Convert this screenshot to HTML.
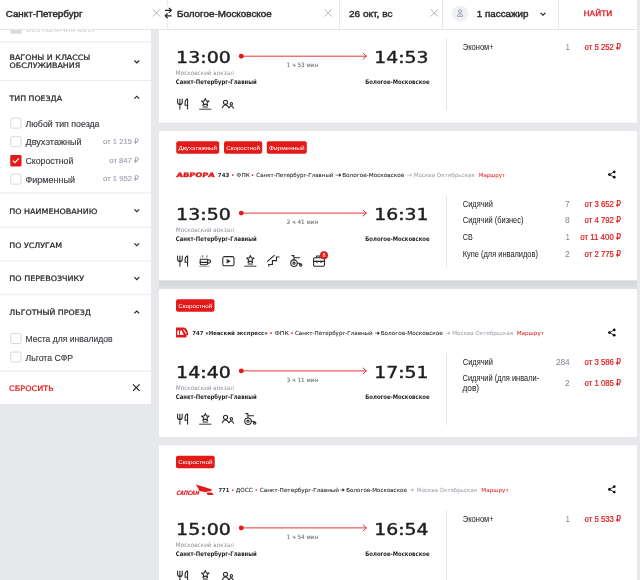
<!DOCTYPE html>
<html lang="ru"><head><meta charset="utf-8"><title>РЖД — выбор поезда</title>
<style>
html,body{margin:0;padding:0;width:640px;height:580px;overflow:hidden;background:#e7e8ec}
svg{display:block}
text{white-space:pre}
</style></head><body>
<svg width="640" height="580" viewBox="0 0 640 580" font-family='"Liberation Sans", "DejaVu Sans", sans-serif'>
<rect x="0" y="0" width="640" height="580" fill="#e7e8ec" />
<rect x="0" y="0" width="151" height="404" fill="#fff" />
<rect x="10.3" y="22.7" width="11.5" height="11" fill="#d9dadf" rx="1.5" />
<text x="26.10" y="32.30" font-size="8" fill="#cbcdd2" textLength="69.80" lengthAdjust="spacingAndGlyphs">Без наличия мест</text>
<rect x="0" y="41.5" width="151" height="1" fill="#e9eaee" />
<rect x="0" y="80" width="151" height="1" fill="#e9eaee" />
<rect x="0" y="192.5" width="151" height="1" fill="#e9eaee" />
<rect x="0" y="226.8" width="151" height="1" fill="#e9eaee" />
<rect x="0" y="260.6" width="151" height="1" fill="#e9eaee" />
<rect x="0" y="294.2" width="151" height="1" fill="#e9eaee" />
<rect x="0" y="370.5" width="151" height="1" fill="#e9eaee" />
<text x="9.50" y="60.40" font-size="7.4" fill="#2a2a2e" font-family='"DejaVu Sans", "Liberation Sans", sans-serif' textLength="80.80" lengthAdjust="spacingAndGlyphs" stroke="#2a2a2e" stroke-width="0.24">ВАГОНЫ И КЛАССЫ</text>
<text x="9.50" y="68.10" font-size="7.4" fill="#2a2a2e" font-family='"DejaVu Sans", "Liberation Sans", sans-serif' textLength="70.70" lengthAdjust="spacingAndGlyphs" stroke="#2a2a2e" stroke-width="0.24">ОБСЛУЖИВАНИЯ</text>
<path d="M134.4 60.5L136.8 62.900000000000006L139.20000000000002 60.5" fill="none" stroke="#222226" stroke-width="1.15" />
<text x="9.50" y="100.80" font-size="7.4" fill="#2a2a2e" font-family='"DejaVu Sans", "Liberation Sans", sans-serif' textLength="52.60" lengthAdjust="spacingAndGlyphs" stroke="#2a2a2e" stroke-width="0.24">ТИП ПОЕЗДА</text>
<path d="M134.4 98.60000000000001L136.8 96.2L139.20000000000002 98.60000000000001" fill="none" stroke="#222226" stroke-width="1.15" />
<rect x="10.75" y="118.1" width="10.3" height="10" fill="#fff" rx="1.4" stroke="#d7d8dd" stroke-width="1"/>
<text x="25.50" y="126.90" font-size="8.2" fill="#3a3a41" textLength="74.00" lengthAdjust="spacingAndGlyphs" stroke="#3a3a41" stroke-width="0.14">Любой тип поезда</text>
<rect x="10.75" y="136.7" width="10.3" height="10" fill="#fff" rx="1.4" stroke="#d7d8dd" stroke-width="1"/>
<text x="25.50" y="145.30" font-size="8.2" fill="#3a3a41" textLength="56.20" lengthAdjust="spacingAndGlyphs" stroke="#3a3a41" stroke-width="0.14">Двухэтажный</text>
<text x="103.10" y="144.10" font-size="7.7" fill="#9a9eab" textLength="35.80" lengthAdjust="spacingAndGlyphs" stroke="#9a9eab" stroke-width="0.12">от 1 215 ₽</text>
<rect x="10.25" y="155.0" width="11.3" height="11.4" fill="#e21a1a" rx="1.1" />
<path d="M12.9 160.6L14.9 162.6L18.9 158.4" fill="none" stroke="#fff" stroke-width="1.2" />
<text x="25.50" y="164.10" font-size="8.2" fill="#3a3a41" textLength="47.80" lengthAdjust="spacingAndGlyphs" stroke="#3a3a41" stroke-width="0.14">Скоростной</text>
<text x="109.30" y="162.80" font-size="7.7" fill="#9a9eab" textLength="29.60" lengthAdjust="spacingAndGlyphs" stroke="#9a9eab" stroke-width="0.12">от 847 ₽</text>
<rect x="10.75" y="174.1" width="10.3" height="10" fill="#fff" rx="1.4" stroke="#d7d8dd" stroke-width="1"/>
<text x="25.50" y="182.70" font-size="8.2" fill="#3a3a41" textLength="49.50" lengthAdjust="spacingAndGlyphs" stroke="#3a3a41" stroke-width="0.14">Фирменный</text>
<text x="103.10" y="181.40" font-size="7.7" fill="#9a9eab" textLength="35.80" lengthAdjust="spacingAndGlyphs" stroke="#9a9eab" stroke-width="0.12">от 1 952 ₽</text>
<text x="9.30" y="213.60" font-size="7.4" fill="#2a2a2e" font-family='"DejaVu Sans", "Liberation Sans", sans-serif' textLength="88.00" lengthAdjust="spacingAndGlyphs" stroke="#2a2a2e" stroke-width="0.24">ПО НАИМЕНОВАНИЮ</text>
<path d="M134.4 209.4L136.8 211.79999999999998L139.20000000000002 209.4" fill="none" stroke="#222226" stroke-width="1.15" />
<text x="9.30" y="247.60" font-size="7.4" fill="#2a2a2e" font-family='"DejaVu Sans", "Liberation Sans", sans-serif' textLength="52.80" lengthAdjust="spacingAndGlyphs" stroke="#2a2a2e" stroke-width="0.24">ПО УСЛУГАМ</text>
<path d="M134.4 243.4L136.8 245.79999999999998L139.20000000000002 243.4" fill="none" stroke="#222226" stroke-width="1.15" />
<text x="9.30" y="281.20" font-size="7.4" fill="#2a2a2e" font-family='"DejaVu Sans", "Liberation Sans", sans-serif' textLength="74.90" lengthAdjust="spacingAndGlyphs" stroke="#2a2a2e" stroke-width="0.24">ПО ПЕРЕВОЗЧИКУ</text>
<path d="M134.4 277.2L136.8 279.59999999999997L139.20000000000002 277.2" fill="none" stroke="#222226" stroke-width="1.15" />
<text x="9.30" y="315.40" font-size="7.4" fill="#2a2a2e" font-family='"DejaVu Sans", "Liberation Sans", sans-serif' textLength="81.70" lengthAdjust="spacingAndGlyphs" stroke="#2a2a2e" stroke-width="0.24">ЛЬГОТНЫЙ ПРОЕЗД</text>
<path d="M134.4 313.4L136.8 311.0L139.20000000000002 313.4" fill="none" stroke="#222226" stroke-width="1.15" />
<rect x="10.75" y="333.5" width="10.3" height="10" fill="#fff" rx="1.4" stroke="#d7d8dd" stroke-width="1"/>
<text x="25.50" y="342.20" font-size="8.2" fill="#3a3a41" textLength="87.00" lengthAdjust="spacingAndGlyphs" stroke="#3a3a41" stroke-width="0.14">Места для инвалидов</text>
<rect x="10.75" y="352.1" width="10.3" height="10" fill="#fff" rx="1.4" stroke="#d7d8dd" stroke-width="1"/>
<text x="25.50" y="360.80" font-size="8.2" fill="#3a3a41" textLength="47.50" lengthAdjust="spacingAndGlyphs" stroke="#3a3a41" stroke-width="0.14">Льгота СФР</text>
<text x="9.10" y="391.20" font-size="7.4" fill="#e21a1a" font-family='"DejaVu Sans", "Liberation Sans", sans-serif' textLength="44.60" lengthAdjust="spacingAndGlyphs" stroke="#e21a1a" stroke-width="0.22">СБРОСИТЬ</text>
<path d="M133 384.3L139.6 390.9M139.6 384.3L133 390.9" fill="none" stroke="#222226" stroke-width="1.15" />
<rect x="159" y="-26" width="478" height="148.5" fill="#fff" />
<text x="176.10" y="63.30" font-size="16.4" fill="#1e1e22" font-family='"DejaVu Sans", "Liberation Sans", sans-serif' textLength="54.70" lengthAdjust="spacingAndGlyphs" stroke="#1e1e22" stroke-width="0.42">13:00</text>
<text x="374.30" y="63.30" font-size="16.4" fill="#1e1e22" font-family='"DejaVu Sans", "Liberation Sans", sans-serif' textLength="54.20" lengthAdjust="spacingAndGlyphs" stroke="#1e1e22" stroke-width="0.42">14:53</text>
<line x1="241.3" y1="56.199999999999996" x2="366.4" y2="56.199999999999996" stroke="#e4383c" stroke-width="1"/>
<circle cx="241.3" cy="56.199999999999996" r="2.45" fill="#e21a1a"/>
<path d="M362.8 53.0L366.4 56.199999999999996L362.8 59.4" fill="none" stroke="#e4383c" stroke-width="1" />
<text x="286.80" y="66.80" font-size="5.9" fill="#6f727c" font-family='"DejaVu Sans", "Liberation Sans", sans-serif' textLength="31.30" lengthAdjust="spacingAndGlyphs" stroke="#6f727c" stroke-width="0.1">1 ч 53 мин</text>
<text x="175.80" y="75.30" font-size="6.1" fill="#8d909a" font-family='"DejaVu Sans", "Liberation Sans", sans-serif' textLength="58.00" lengthAdjust="spacingAndGlyphs">Московский вокзал</text>
<text x="175.80" y="83.90" font-size="6.3" fill="#1e1e22" font-family='"DejaVu Sans", "Liberation Sans", sans-serif' font-weight="700" textLength="80.90" lengthAdjust="spacingAndGlyphs">Санкт-Петербург-Главный</text>
<text x="365.30" y="83.90" font-size="6.3" fill="#1e1e22" font-family='"DejaVu Sans", "Liberation Sans", sans-serif' font-weight="700" textLength="64.20" lengthAdjust="spacingAndGlyphs">Бологое-Московское</text>
<rect x="446" y="38.3" width="1" height="72" fill="#e4e5e9" />
<rect x="159" y="131" width="478" height="149.5" fill="#fff" />
<rect x="176.25" y="141.25" width="42.94999999999999" height="12.5" fill="#e21a1a" rx="2" />
<text x="197.72" y="149.85" font-size="6.1" fill="#fff" text-anchor="middle" textLength="38.45" lengthAdjust="spacingAndGlyphs">Двухэтажный</text>
<rect x="224.0" y="141.25" width="38.19999999999999" height="12.5" fill="#e21a1a" rx="2" />
<text x="243.10" y="149.85" font-size="6.1" fill="#fff" text-anchor="middle" textLength="33.70" lengthAdjust="spacingAndGlyphs">Скоростной</text>
<rect x="266.8" y="141.25" width="40.0" height="12.5" fill="#e21a1a" rx="2" />
<text x="286.80" y="149.85" font-size="6.1" fill="#fff" text-anchor="middle" textLength="35.50" lengthAdjust="spacingAndGlyphs">Фирменный</text>
<text x="176.10" y="220.20" font-size="16.4" fill="#1e1e22" font-family='"DejaVu Sans", "Liberation Sans", sans-serif' textLength="54.70" lengthAdjust="spacingAndGlyphs" stroke="#1e1e22" stroke-width="0.42">13:50</text>
<text x="374.30" y="220.20" font-size="16.4" fill="#1e1e22" font-family='"DejaVu Sans", "Liberation Sans", sans-serif' textLength="54.20" lengthAdjust="spacingAndGlyphs" stroke="#1e1e22" stroke-width="0.42">16:31</text>
<line x1="241.3" y1="213.1" x2="366.4" y2="213.1" stroke="#e4383c" stroke-width="1"/>
<circle cx="241.3" cy="213.1" r="2.45" fill="#e21a1a"/>
<path d="M362.8 209.89999999999998L366.4 213.1L362.8 216.29999999999998" fill="none" stroke="#e4383c" stroke-width="1" />
<text x="286.80" y="223.70" font-size="5.9" fill="#6f727c" font-family='"DejaVu Sans", "Liberation Sans", sans-serif' textLength="31.30" lengthAdjust="spacingAndGlyphs" stroke="#6f727c" stroke-width="0.1">2 ч 41 мин</text>
<text x="175.80" y="232.20" font-size="6.1" fill="#8d909a" font-family='"DejaVu Sans", "Liberation Sans", sans-serif' textLength="58.00" lengthAdjust="spacingAndGlyphs">Московский вокзал</text>
<text x="175.80" y="240.80" font-size="6.3" fill="#1e1e22" font-family='"DejaVu Sans", "Liberation Sans", sans-serif' font-weight="700" textLength="80.90" lengthAdjust="spacingAndGlyphs">Санкт-Петербург-Главный</text>
<text x="365.30" y="240.80" font-size="6.3" fill="#1e1e22" font-family='"DejaVu Sans", "Liberation Sans", sans-serif' font-weight="700" textLength="64.20" lengthAdjust="spacingAndGlyphs">Бологое-Московское</text>
<rect x="446" y="195.2" width="1" height="72" fill="#e4e5e9" />
<defs><linearGradient id="sh2" x1="0" y1="0" x2="0" y2="1"><stop offset="0" stop-color="#d3d4d8"/><stop offset="1" stop-color="#dfe0e4"/></linearGradient></defs>
<rect x="159" y="280.5" width="478" height="8.5" fill="url(#sh2)" />
<rect x="159" y="289" width="478" height="148" fill="#fff" />
<rect x="176.0" y="299.3" width="38.5" height="12.5" fill="#e21a1a" rx="2" />
<text x="195.25" y="307.90" font-size="6.1" fill="#fff" text-anchor="middle" textLength="34.00" lengthAdjust="spacingAndGlyphs">Скоростной</text>
<text x="176.10" y="378.00" font-size="16.4" fill="#1e1e22" font-family='"DejaVu Sans", "Liberation Sans", sans-serif' textLength="54.70" lengthAdjust="spacingAndGlyphs" stroke="#1e1e22" stroke-width="0.42">14:40</text>
<text x="374.30" y="378.00" font-size="16.4" fill="#1e1e22" font-family='"DejaVu Sans", "Liberation Sans", sans-serif' textLength="54.20" lengthAdjust="spacingAndGlyphs" stroke="#1e1e22" stroke-width="0.42">17:51</text>
<line x1="241.3" y1="370.9" x2="366.4" y2="370.9" stroke="#e4383c" stroke-width="1"/>
<circle cx="241.3" cy="370.9" r="2.45" fill="#e21a1a"/>
<path d="M362.8 367.7L366.4 370.9L362.8 374.1" fill="none" stroke="#e4383c" stroke-width="1" />
<text x="286.80" y="381.50" font-size="5.9" fill="#6f727c" font-family='"DejaVu Sans", "Liberation Sans", sans-serif' textLength="31.30" lengthAdjust="spacingAndGlyphs" stroke="#6f727c" stroke-width="0.1">3 ч 11 мин</text>
<text x="175.80" y="390.00" font-size="6.1" fill="#8d909a" font-family='"DejaVu Sans", "Liberation Sans", sans-serif' textLength="58.00" lengthAdjust="spacingAndGlyphs">Московский вокзал</text>
<text x="175.80" y="398.60" font-size="6.3" fill="#1e1e22" font-family='"DejaVu Sans", "Liberation Sans", sans-serif' font-weight="700" textLength="80.90" lengthAdjust="spacingAndGlyphs">Санкт-Петербург-Главный</text>
<text x="365.30" y="398.60" font-size="6.3" fill="#1e1e22" font-family='"DejaVu Sans", "Liberation Sans", sans-serif' font-weight="700" textLength="64.20" lengthAdjust="spacingAndGlyphs">Бологое-Московское</text>
<rect x="446" y="353" width="1" height="72" fill="#e4e5e9" />
<rect x="159" y="445.4" width="478" height="154.60000000000002" fill="#fff" />
<rect x="176.0" y="455.8" width="38.69999999999999" height="12.5" fill="#e21a1a" rx="2" />
<text x="195.35" y="464.40" font-size="6.1" fill="#fff" text-anchor="middle" textLength="34.20" lengthAdjust="spacingAndGlyphs">Скоростной</text>
<text x="176.10" y="535.00" font-size="16.4" fill="#1e1e22" font-family='"DejaVu Sans", "Liberation Sans", sans-serif' textLength="54.70" lengthAdjust="spacingAndGlyphs" stroke="#1e1e22" stroke-width="0.42">15:00</text>
<text x="374.30" y="535.00" font-size="16.4" fill="#1e1e22" font-family='"DejaVu Sans", "Liberation Sans", sans-serif' textLength="54.20" lengthAdjust="spacingAndGlyphs" stroke="#1e1e22" stroke-width="0.42">16:54</text>
<line x1="241.3" y1="527.9" x2="366.4" y2="527.9" stroke="#e4383c" stroke-width="1"/>
<circle cx="241.3" cy="527.9" r="2.45" fill="#e21a1a"/>
<path d="M362.8 524.7L366.4 527.9L362.8 531.1" fill="none" stroke="#e4383c" stroke-width="1" />
<text x="286.80" y="538.50" font-size="5.9" fill="#6f727c" font-family='"DejaVu Sans", "Liberation Sans", sans-serif' textLength="31.30" lengthAdjust="spacingAndGlyphs" stroke="#6f727c" stroke-width="0.1">1 ч 54 мин</text>
<text x="175.80" y="547.00" font-size="6.1" fill="#8d909a" font-family='"DejaVu Sans", "Liberation Sans", sans-serif' textLength="58.00" lengthAdjust="spacingAndGlyphs">Московский вокзал</text>
<text x="175.80" y="555.60" font-size="6.3" fill="#1e1e22" font-family='"DejaVu Sans", "Liberation Sans", sans-serif' font-weight="700" textLength="80.90" lengthAdjust="spacingAndGlyphs">Санкт-Петербург-Главный</text>
<text x="365.30" y="555.60" font-size="6.3" fill="#1e1e22" font-family='"DejaVu Sans", "Liberation Sans", sans-serif' font-weight="700" textLength="64.20" lengthAdjust="spacingAndGlyphs">Бологое-Московское</text>
<rect x="446" y="510" width="1" height="72" fill="#e4e5e9" />
<text x="462.80" y="49.90" font-size="8.3" fill="#2a2a2e" textLength="30.80" lengthAdjust="spacingAndGlyphs" stroke="#2a2a2e" stroke-width="0.05">Эконом+</text>
<text x="565.70" y="49.90" font-size="8.7" fill="#7f8390" textLength="4.00" lengthAdjust="spacingAndGlyphs">1</text>
<text x="584.60" y="49.90" font-size="8.3" fill="#e21a1a" textLength="36.40" lengthAdjust="spacingAndGlyphs" stroke="#e21a1a" stroke-width="0.22">от 5 252 ₽</text>
<g transform="translate(177.00 98.00)" fill="none" stroke="#26262b" stroke-width="1.05" stroke-linecap="round" stroke-linejoin="round"><path d="M0.6 0.9V4.6Q0.6 6.6 2.9 6.6Q5.2 6.6 5.2 4.6V0.9M2.9 0.9V11.1"/><path d="M10.6 0.9V11.1M10.6 0.9Q8.1 1.6 8.1 4.4V7.3H10.6"/></g>
<g transform="translate(199.00 98.00)" fill="none" stroke="#26262b" stroke-width="1.05" stroke-linecap="round" stroke-linejoin="round"><polygon points="6.30,0.40 7.33,2.88 10.01,3.09 7.96,4.84 8.59,7.46 6.30,6.05 4.01,7.46 4.64,4.84 2.59,3.09 5.27,2.88"/><path d="M4.2 9H8.4" stroke-width="1.2"/><path d="M0.6 11.2H12" stroke-width="0.9"/></g>
<g transform="translate(222.00 98.00)" fill="none" stroke="#26262b" stroke-width="1.05" stroke-linecap="round" stroke-linejoin="round"><circle cx="3.5" cy="4.3" r="2.05"/><path d="M0.3 9.6L2.1 7.3Q3.5 6.5 4.9 7.3L7 9.6"/><ellipse cx="9.3" cy="5.8" rx="1.2" ry="1.35"/><path d="M7 9.6L8.5 8.2Q9.3 7.7 10.1 8.2L11.6 10.3"/></g>
<text x="217.80" y="177.00" font-size="5.6" fill="#2a2a2e" font-family='"DejaVu Sans", "Liberation Sans", sans-serif' font-weight="700" textLength="11.50" lengthAdjust="spacingAndGlyphs">743</text>
<circle cx="232.7" cy="175.1" r="0.85" fill="#e21a1a"/>
<text x="236.60" y="177.00" font-size="5.6" fill="#2c2c32" font-family='"DejaVu Sans", "Liberation Sans", sans-serif' textLength="13.10" lengthAdjust="spacingAndGlyphs" stroke="#2c2c32" stroke-width="0.08">ФПК</text>
<circle cx="252.5" cy="175.1" r="0.85" fill="#e21a1a"/>
<text x="256.30" y="177.00" font-size="5.6" fill="#2c2c32" font-family='"DejaVu Sans", "Liberation Sans", sans-serif' textLength="77.10" lengthAdjust="spacingAndGlyphs" stroke="#2c2c32" stroke-width="0.08">Санкт-Петербург-Главный</text>
<path d="M335.6 175.1H340.4M339.4 173.8L341 175.1L339.4 176.4Z" fill="#2a2a2e" stroke="#2a2a2e" stroke-width="0.6" />
<text x="342.20" y="177.00" font-size="5.6" fill="#2c2c32" font-family='"DejaVu Sans", "Liberation Sans", sans-serif' textLength="62.10" lengthAdjust="spacingAndGlyphs" stroke="#2c2c32" stroke-width="0.08">Бологое-Московское</text>
<path d="M406.9 175.1H411.0M410.0 173.8L411.6 175.1L410.0 176.4Z" fill="#b8bac2" stroke="#b8bac2" stroke-width="0.6" />
<text x="413.70" y="177.00" font-size="5.6" fill="#a9abb4" font-family='"DejaVu Sans", "Liberation Sans", sans-serif' textLength="61.00" lengthAdjust="spacingAndGlyphs" stroke="#a9abb4" stroke-width="0.1">Москва Октябрьская</text>
<text x="478.70" y="177.00" font-size="5.6" fill="#e21a1a" font-family='"DejaVu Sans", "Liberation Sans", sans-serif' textLength="26.40" lengthAdjust="spacingAndGlyphs" stroke="#e21a1a" stroke-width="0.02">Маршрут</text>
<g transform="translate(176.3 176.9) skewX(-8)">
<text x="0.00" y="0.00" font-size="6.1" fill="#e21a1a" font-family='"DejaVu Sans", "Liberation Sans", sans-serif' font-weight="700" textLength="38.20" lengthAdjust="spacingAndGlyphs" stroke="#e21a1a" stroke-width="0.35">АВРОРА</text>
</g>
<path d="M614.25 171.9L609.4 174.6L614.25 177.2" fill="none" stroke="#111" stroke-width="0.8"/>
<circle cx="614.25" cy="171.9" r="1.35" fill="#111"/>
<circle cx="609.4" cy="174.6" r="1.35" fill="#111"/>
<circle cx="614.25" cy="177.2" r="1.35" fill="#111"/>
<text x="462.80" y="206.80" font-size="8.3" fill="#2a2a2e" textLength="30.10" lengthAdjust="spacingAndGlyphs" stroke="#2a2a2e" stroke-width="0.05">Сидячий</text>
<text x="565.00" y="206.80" font-size="8.7" fill="#7f8390" textLength="4.70" lengthAdjust="spacingAndGlyphs">7</text>
<text x="584.60" y="206.80" font-size="8.3" fill="#e21a1a" textLength="36.40" lengthAdjust="spacingAndGlyphs" stroke="#e21a1a" stroke-width="0.22">от 3 652 ₽</text>
<text x="462.80" y="223.40" font-size="8.3" fill="#2a2a2e" textLength="60.60" lengthAdjust="spacingAndGlyphs" stroke="#2a2a2e" stroke-width="0.05">Сидячий (бизнес)</text>
<text x="565.00" y="223.40" font-size="8.7" fill="#7f8390" textLength="4.70" lengthAdjust="spacingAndGlyphs">8</text>
<text x="584.60" y="223.40" font-size="8.3" fill="#e21a1a" textLength="36.40" lengthAdjust="spacingAndGlyphs" stroke="#e21a1a" stroke-width="0.22">от 4 792 ₽</text>
<text x="462.80" y="240.00" font-size="8.3" fill="#2a2a2e" textLength="9.90" lengthAdjust="spacingAndGlyphs" stroke="#2a2a2e" stroke-width="0.05">СВ</text>
<text x="565.70" y="240.00" font-size="8.7" fill="#7f8390" textLength="4.00" lengthAdjust="spacingAndGlyphs">1</text>
<text x="580.20" y="240.00" font-size="8.3" fill="#e21a1a" textLength="40.80" lengthAdjust="spacingAndGlyphs" stroke="#e21a1a" stroke-width="0.22">от 11 400 ₽</text>
<text x="462.80" y="256.60" font-size="8.3" fill="#2a2a2e" textLength="75.10" lengthAdjust="spacingAndGlyphs" stroke="#2a2a2e" stroke-width="0.05">Купе (для инвалидов)</text>
<text x="565.00" y="256.60" font-size="8.7" fill="#7f8390" textLength="4.70" lengthAdjust="spacingAndGlyphs">2</text>
<text x="584.60" y="256.60" font-size="8.3" fill="#e21a1a" textLength="36.40" lengthAdjust="spacingAndGlyphs" stroke="#e21a1a" stroke-width="0.22">от 2 775 ₽</text>
<g transform="translate(177.00 255.00)" fill="none" stroke="#26262b" stroke-width="1.05" stroke-linecap="round" stroke-linejoin="round"><path d="M0.6 0.9V4.6Q0.6 6.6 2.9 6.6Q5.2 6.6 5.2 4.6V0.9M2.9 0.9V11.1"/><path d="M10.6 0.9V11.1M10.6 0.9Q8.1 1.6 8.1 4.4V7.3H10.6"/></g>
<g transform="translate(199.00 255.00)" fill="none" stroke="#26262b" stroke-width="1.05" stroke-linecap="round" stroke-linejoin="round"><path d="M3.7 0.3V2.4M7.9 0.3V2.4" stroke-width="1.1" stroke="#6a6a70" stroke-linecap="butt"/><path d="M1.7 1.3V2.5" stroke-width="0.7" stroke="#b0b0b6"/><path d="M1.2 4.2H8.7V8.2Q8.7 9.7 7.2 9.7H2.7Q1.2 9.7 1.2 8.2Z"/><path d="M1.2 7.4H8.7" stroke-width="1.1"/><path d="M8.7 4.8Q11.6 4.8 11.6 6.5Q11.6 8.2 8.7 8.2"/><path d="M0.6 11.4H10" stroke-width="0.9" stroke="#9a9aa0"/></g>
<g transform="translate(222.00 255.00)" fill="none" stroke="#26262b" stroke-width="1.05" stroke-linecap="round" stroke-linejoin="round"><rect x="0.8" y="1.6" width="11.2" height="9.2" rx="1.6"/><path d="M5.2 4.4L8.2 6.2L5.2 8Z" fill="#26262b" stroke-width="0.6"/></g>
<g transform="translate(244.00 255.00)" fill="none" stroke="#26262b" stroke-width="1.05" stroke-linecap="round" stroke-linejoin="round"><polygon points="6.30,0.40 7.33,2.88 10.01,3.09 7.96,4.84 8.59,7.46 6.30,6.05 4.01,7.46 4.64,4.84 2.59,3.09 5.27,2.88"/><path d="M4.2 9H8.4" stroke-width="1.2"/><path d="M0.6 11.2H12" stroke-width="0.9"/></g>
<g transform="translate(267.00 255.00)" fill="none" stroke="#26262b" stroke-width="1.05" stroke-linecap="round" stroke-linejoin="round"><path d="M0.5 6.4L7.3 0.4" stroke-width="1.05"/><path d="M1.8 11.4V9.5H5.4V5.6H9.5V2H12.5" stroke-width="1.15" stroke-linecap="butt" stroke-linejoin="miter"/></g>
<g transform="translate(290.00 255.00)" fill="none" stroke="#26262b" stroke-width="1.05" stroke-linecap="round" stroke-linejoin="round"><path d="M1.8 0.6H3.9V4.6M3.9 2.8H9.6"/><circle cx="4" cy="8.2" r="3.3"/><circle cx="4" cy="8.2" r="1.1"/><path d="M7.3 8.3H9.5L10.6 9.4"/><circle cx="10.7" cy="9.9" r="1.2"/></g>
<g transform="translate(312.00 255.00)" fill="none" stroke="#26262b" stroke-width="1.05" stroke-linecap="round" stroke-linejoin="round"><path d="M4.5 2.6V1H8V2.6"/><rect x="1.6" y="2.8" width="10.8" height="8.5" rx="1.2"/><path d="M1.6 6.4H12.4" stroke-width="1.1"/><path d="M5 6V7.6M9 6V7.6"/><circle cx="12.0" cy="0.3" r="4" fill="#e21a1a" stroke="none"/><text x="12.0" y="2.3" font-size="5.4" fill="#fff" stroke="none" text-anchor="middle" font-family="Liberation Sans">8</text></g>
<text x="192.20" y="335.10" font-size="5.6" fill="#2a2a2e" font-family='"DejaVu Sans", "Liberation Sans", sans-serif' font-weight="700" textLength="75.60" lengthAdjust="spacingAndGlyphs">747 «Невский экспресс»</text>
<circle cx="271" cy="333.20000000000005" r="0.85" fill="#e21a1a"/>
<text x="274.40" y="335.10" font-size="5.6" fill="#2c2c32" font-family='"DejaVu Sans", "Liberation Sans", sans-serif' textLength="14.50" lengthAdjust="spacingAndGlyphs" stroke="#2c2c32" stroke-width="0.08">ФПК</text>
<circle cx="292" cy="333.20000000000005" r="0.85" fill="#e21a1a"/>
<text x="295.00" y="335.10" font-size="5.6" fill="#2c2c32" font-family='"DejaVu Sans", "Liberation Sans", sans-serif' textLength="77.50" lengthAdjust="spacingAndGlyphs" stroke="#2c2c32" stroke-width="0.08">Санкт-Петербург-Главный</text>
<path d="M375.0 333.20000000000005H378.79999999999995M377.79999999999995 331.90000000000003L379.4 333.20000000000005L377.79999999999995 334.5Z" fill="#2a2a2e" stroke="#2a2a2e" stroke-width="0.6" />
<text x="380.70" y="335.10" font-size="5.6" fill="#2c2c32" font-family='"DejaVu Sans", "Liberation Sans", sans-serif' textLength="62.10" lengthAdjust="spacingAndGlyphs" stroke="#2c2c32" stroke-width="0.08">Бологое-Московское</text>
<path d="M445.8 333.20000000000005H449.59999999999997M448.59999999999997 331.90000000000003L450.2 333.20000000000005L448.59999999999997 334.5Z" fill="#b8bac2" stroke="#b8bac2" stroke-width="0.6" />
<text x="452.20" y="335.10" font-size="5.6" fill="#a9abb4" font-family='"DejaVu Sans", "Liberation Sans", sans-serif' textLength="61.10" lengthAdjust="spacingAndGlyphs" stroke="#a9abb4" stroke-width="0.1">Москва Октябрьская</text>
<text x="516.70" y="335.10" font-size="5.6" fill="#e21a1a" font-family='"DejaVu Sans", "Liberation Sans", sans-serif' textLength="27.35" lengthAdjust="spacingAndGlyphs" stroke="#e21a1a" stroke-width="0.02">Маршрут</text>
<path d="M176 327.6H183.4Q186.6 327.9 187.6 331.4L188.1 333.8V335.2H186.4V337.5H176Z" fill="#e21a1a"/>
<path d="M177.3 330.4H179.1V334.9H177.3ZM180.1 334.9V331.6Q180.1 330.2 181.4 330.2L183.9 334.9ZM182.9 329.6H184.1L186.9 333.7H185.7Z" fill="#fff"/>
<path d="M614.25 329.90000000000003L609.4 332.6L614.25 335.20000000000005" fill="none" stroke="#111" stroke-width="0.8"/>
<circle cx="614.25" cy="329.90000000000003" r="1.35" fill="#111"/>
<circle cx="609.4" cy="332.6" r="1.35" fill="#111"/>
<circle cx="614.25" cy="335.20000000000005" r="1.35" fill="#111"/>
<text x="462.80" y="364.60" font-size="8.3" fill="#2a2a2e" textLength="30.10" lengthAdjust="spacingAndGlyphs" stroke="#2a2a2e" stroke-width="0.05">Сидячий</text>
<text x="555.90" y="364.60" font-size="8.7" fill="#7f8390" textLength="13.80" lengthAdjust="spacingAndGlyphs">284</text>
<text x="584.60" y="364.60" font-size="8.3" fill="#e21a1a" textLength="36.40" lengthAdjust="spacingAndGlyphs" stroke="#e21a1a" stroke-width="0.22">от 3 586 ₽</text>
<text x="462.50" y="381.20" font-size="8.3" fill="#2a2a2e" textLength="76.70" lengthAdjust="spacingAndGlyphs" stroke="#2a2a2e" stroke-width="0.05">Сидячий (для инвали-</text>
<text x="462.50" y="390.50" font-size="8.3" fill="#2a2a2e" stroke="#2a2a2e" stroke-width="0.05">дов)</text>
<text x="565.00" y="386.40" font-size="8.7" fill="#7f8390" textLength="4.70" lengthAdjust="spacingAndGlyphs">2</text>
<text x="584.60" y="386.40" font-size="8.3" fill="#e21a1a" textLength="36.40" lengthAdjust="spacingAndGlyphs" stroke="#e21a1a" stroke-width="0.22">от 1 085 ₽</text>
<g transform="translate(177.00 413.00)" fill="none" stroke="#26262b" stroke-width="1.05" stroke-linecap="round" stroke-linejoin="round"><path d="M0.6 0.9V4.6Q0.6 6.6 2.9 6.6Q5.2 6.6 5.2 4.6V0.9M2.9 0.9V11.1"/><path d="M10.6 0.9V11.1M10.6 0.9Q8.1 1.6 8.1 4.4V7.3H10.6"/></g>
<g transform="translate(199.00 413.00)" fill="none" stroke="#26262b" stroke-width="1.05" stroke-linecap="round" stroke-linejoin="round"><polygon points="6.30,0.40 7.33,2.88 10.01,3.09 7.96,4.84 8.59,7.46 6.30,6.05 4.01,7.46 4.64,4.84 2.59,3.09 5.27,2.88"/><path d="M4.2 9H8.4" stroke-width="1.2"/><path d="M0.6 11.2H12" stroke-width="0.9"/></g>
<g transform="translate(222.00 413.00)" fill="none" stroke="#26262b" stroke-width="1.05" stroke-linecap="round" stroke-linejoin="round"><circle cx="3.5" cy="4.3" r="2.05"/><path d="M0.3 9.6L2.1 7.3Q3.5 6.5 4.9 7.3L7 9.6"/><ellipse cx="9.3" cy="5.8" rx="1.2" ry="1.35"/><path d="M7 9.6L8.5 8.2Q9.3 7.7 10.1 8.2L11.6 10.3"/></g>
<g transform="translate(244.00 413.00)" fill="none" stroke="#26262b" stroke-width="1.05" stroke-linecap="round" stroke-linejoin="round"><path d="M1.8 0.6H3.9V4.6M3.9 2.8H9.6"/><circle cx="4" cy="8.2" r="3.3"/><circle cx="4" cy="8.2" r="1.1"/><path d="M7.3 8.3H9.5L10.6 9.4"/><circle cx="10.7" cy="9.9" r="1.2"/></g>
<text x="218.40" y="491.90" font-size="5.6" fill="#2a2a2e" font-family='"DejaVu Sans", "Liberation Sans", sans-serif' font-weight="700" textLength="10.90" lengthAdjust="spacingAndGlyphs">771</text>
<circle cx="232.8" cy="490.0" r="0.85" fill="#e21a1a"/>
<text x="235.80" y="491.90" font-size="5.6" fill="#2c2c32" font-family='"DejaVu Sans", "Liberation Sans", sans-serif' textLength="17.00" lengthAdjust="spacingAndGlyphs" stroke="#2c2c32" stroke-width="0.08">ДОСС</text>
<circle cx="256.2" cy="490.0" r="0.85" fill="#e21a1a"/>
<text x="259.70" y="491.90" font-size="5.6" fill="#2c2c32" font-family='"DejaVu Sans", "Liberation Sans", sans-serif' textLength="79.35" lengthAdjust="spacingAndGlyphs" stroke="#2c2c32" stroke-width="0.08">Санкт-Петербург-Главный</text>
<path d="M340.3 490.0H343.79999999999995M342.79999999999995 488.7L344.4 490.0L342.79999999999995 491.29999999999995Z" fill="#2a2a2e" stroke="#2a2a2e" stroke-width="0.6" />
<text x="346.30" y="491.90" font-size="5.6" fill="#2c2c32" font-family='"DejaVu Sans", "Liberation Sans", sans-serif' textLength="60.60" lengthAdjust="spacingAndGlyphs" stroke="#2c2c32" stroke-width="0.08">Бологое-Московское</text>
<path d="M409.7 490.0H413.15M412.15 488.7L413.75 490.0L412.15 491.29999999999995Z" fill="#b8bac2" stroke="#b8bac2" stroke-width="0.6" />
<text x="416.60" y="491.90" font-size="5.6" fill="#a9abb4" font-family='"DejaVu Sans", "Liberation Sans", sans-serif' textLength="60.60" lengthAdjust="spacingAndGlyphs" stroke="#a9abb4" stroke-width="0.1">Москва Октябрьская</text>
<text x="481.30" y="491.90" font-size="5.6" fill="#e21a1a" font-family='"DejaVu Sans", "Liberation Sans", sans-serif' textLength="27.40" lengthAdjust="spacingAndGlyphs" stroke="#e21a1a" stroke-width="0.02">Маршрут</text>
<g transform="translate(175.9 494.9) skewX(-16)">
<text x="0.00" y="0.00" font-size="6.0" fill="#e21a1a" font-family='"DejaVu Sans", "Liberation Sans", sans-serif' font-weight="700" textLength="22.80" lengthAdjust="spacingAndGlyphs" stroke="#e21a1a" stroke-width="0.1">САПСАН</text>
</g>
<path d="M196 484.6L211.5 489.2L211.7 490.9L205 492L199.6 491Z" fill="#e21a1a"/>
<path d="M206.5 492.4H211.8L213.8 494.9H207.6Z" fill="#e21a1a"/>
<path d="M614.25 486.7L609.4 489.4L614.25 492.0" fill="none" stroke="#111" stroke-width="0.8"/>
<circle cx="614.25" cy="486.7" r="1.35" fill="#111"/>
<circle cx="609.4" cy="489.4" r="1.35" fill="#111"/>
<circle cx="614.25" cy="492.0" r="1.35" fill="#111"/>
<text x="462.80" y="521.60" font-size="8.3" fill="#2a2a2e" textLength="30.80" lengthAdjust="spacingAndGlyphs" stroke="#2a2a2e" stroke-width="0.05">Эконом+</text>
<text x="565.70" y="521.60" font-size="8.7" fill="#7f8390" textLength="4.00" lengthAdjust="spacingAndGlyphs">1</text>
<text x="584.60" y="521.60" font-size="8.3" fill="#e21a1a" textLength="36.40" lengthAdjust="spacingAndGlyphs" stroke="#e21a1a" stroke-width="0.22">от 5 533 ₽</text>
<g transform="translate(177.00 570.00)" fill="none" stroke="#26262b" stroke-width="1.05" stroke-linecap="round" stroke-linejoin="round"><path d="M0.6 0.9V4.6Q0.6 6.6 2.9 6.6Q5.2 6.6 5.2 4.6V0.9M2.9 0.9V11.1"/><path d="M10.6 0.9V11.1M10.6 0.9Q8.1 1.6 8.1 4.4V7.3H10.6"/></g>
<g transform="translate(199.00 570.00)" fill="none" stroke="#26262b" stroke-width="1.05" stroke-linecap="round" stroke-linejoin="round"><polygon points="6.30,0.40 7.33,2.88 10.01,3.09 7.96,4.84 8.59,7.46 6.30,6.05 4.01,7.46 4.64,4.84 2.59,3.09 5.27,2.88"/><path d="M4.2 9H8.4" stroke-width="1.2"/><path d="M0.6 11.2H12" stroke-width="0.9"/></g>
<g transform="translate(222.00 570.00)" fill="none" stroke="#26262b" stroke-width="1.05" stroke-linecap="round" stroke-linejoin="round"><circle cx="3.5" cy="4.3" r="2.05"/><path d="M0.3 9.6L2.1 7.3Q3.5 6.5 4.9 7.3L7 9.6"/><ellipse cx="9.3" cy="5.8" rx="1.2" ry="1.35"/><path d="M7 9.6L8.5 8.2Q9.3 7.7 10.1 8.2L11.6 10.3"/></g>
<rect x="0" y="0" width="637" height="29" fill="#fff" />
<rect x="0" y="29" width="637" height="1" fill="#e4e5e9" />
<text x="5.75" y="16.90" font-size="9.8" fill="#2b2b30" textLength="76.75" lengthAdjust="spacingAndGlyphs" stroke="#2b2b30" stroke-width="0.45">Санкт-Петербург</text>
<text x="177.00" y="16.90" font-size="9.8" fill="#2b2b30" textLength="94.70" lengthAdjust="spacingAndGlyphs" stroke="#2b2b30" stroke-width="0.45">Бологое-Московское</text>
<text x="349.00" y="16.90" font-size="9.8" fill="#2b2b30" textLength="43.50" lengthAdjust="spacingAndGlyphs" stroke="#2b2b30" stroke-width="0.45">26 окт, вс</text>
<text x="476.80" y="17.10" font-size="9.8" fill="#2b2b30" textLength="51.70" lengthAdjust="spacingAndGlyphs" stroke="#2b2b30" stroke-width="0.45">1 пассажир</text>
<text x="583.50" y="15.90" font-size="7.7" fill="#e3262b" font-family='"DejaVu Sans", "Liberation Sans", sans-serif' textLength="28.70" lengthAdjust="spacingAndGlyphs" stroke="#e3262b" stroke-width="0.35">НАЙТИ</text>
<rect x="167.2" y="0" width="1" height="29" fill="#e6e7eb" />
<rect x="339.0" y="0" width="1" height="29" fill="#e6e7eb" />
<rect x="442.0" y="0" width="1" height="29" fill="#e6e7eb" />
<rect x="558.0" y="0" width="1" height="29" fill="#e6e7eb" />
<path d="M152.8 9.2L160.10000000000002 16.5M160.10000000000002 9.2L152.8 16.5" fill="none" stroke="#a9acb8" stroke-width="0.9" />
<path d="M324.6 9.2L331.90000000000003 16.5M331.90000000000003 9.2L324.6 16.5" fill="none" stroke="#a9acb8" stroke-width="0.9" />
<path d="M430.6 9.2L437.90000000000003 16.5M437.90000000000003 9.2L430.6 16.5" fill="none" stroke="#a9acb8" stroke-width="0.9" />
<rect x="163.5" y="6.5" width="9" height="13" fill="#fff" />
<path d="M165 10.3H171.4M168.9 7.8L171.4 10.3L168.9 12.8" fill="none" stroke="#222226" stroke-width="1.15" />
<path d="M171.6 15.8H165.2M167.7 13.3L165.2 15.8L167.7 18.3" fill="none" stroke="#222226" stroke-width="1.15" />
<circle cx="460.1" cy="13.6" r="8.1" fill="#eff0f3"/>
<circle cx="460.1" cy="11.2" r="1.55" fill="none" stroke="#8d91a0" stroke-width="0.85"/>
<path d="M457.4 16.3C457.5 14.6 458.6 13.9 460.1 13.9C461.6 13.9 462.7 14.6 462.8 16.3Z" fill="none" stroke="#8d91a0" stroke-width="0.85" />
<path d="M540.5999999999999 12.8L542.9999999999999 15.2L545.3999999999999 12.8" fill="none" stroke="#222226" stroke-width="1.15" />
</svg>
</body></html>
